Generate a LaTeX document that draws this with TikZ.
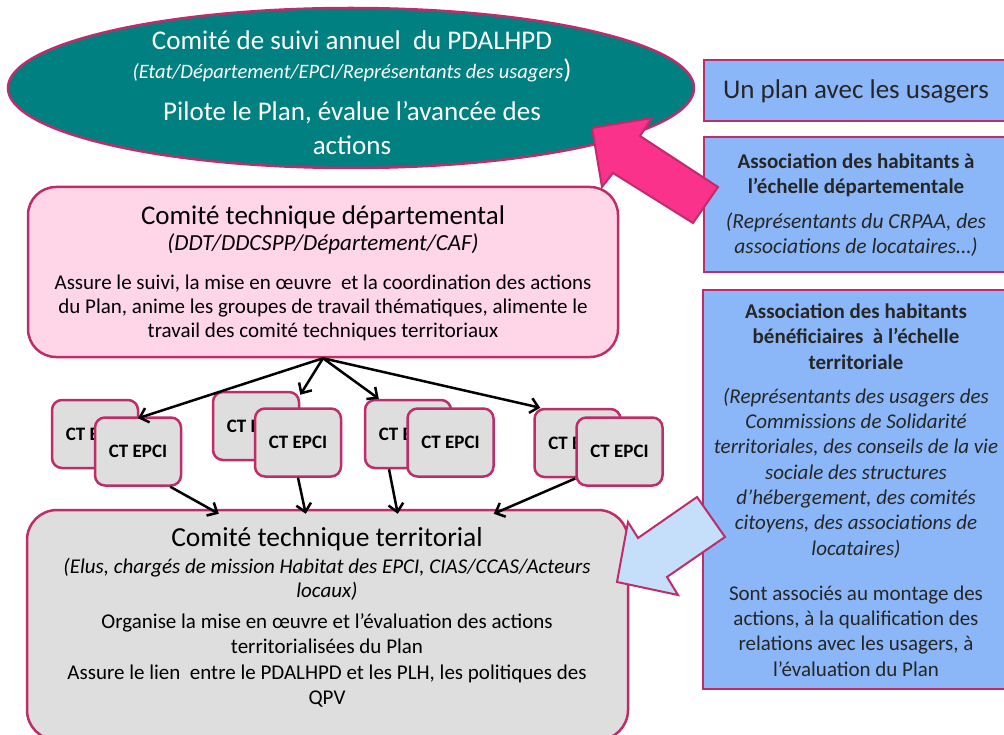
\documentclass[tikz,border=0pt]{standalone}
\usepackage{fontspec}
\setmainfont{Carlito}
\usetikzlibrary{shapes.geometric,arrows.meta,positioning}

\definecolor{cadre}{RGB}{190,45,105}
\definecolor{sarcelle}{RGB}{0,128,128}
\definecolor{rose}{RGB}{255,214,232}
\definecolor{gris}{RGB}{222,222,222}
\definecolor{bleu}{RGB}{139,183,248}
\definecolor{bleuclair}{RGB}{197,222,250}
\definecolor{fuchsia}{RGB}{250,50,140}
\definecolor{encre}{RGB}{38,38,38}

\tikzset{
	texte/.style={align=center, inner sep=0pt},
	comite/.style={draw=cadre, line width=2.5pt, rounded corners=28pt, inner sep=0pt},
	usager/.style={draw=cadre, fill=bleu, line width=2.5pt, inner sep=0pt},
	ctbox/.style={draw=cadre, fill=gris, line width=2.5pt, rounded corners=10pt, minimum width=86pt, minimum height=68pt, inner sep=0pt, font=\fontsize{19}{22}\selectfont\bfseries},
	fleche/.style={-{Straight Barb[length=8pt,width=15pt]}, line width=2.5pt},
	bloc/.style={draw=cadre, line width=2pt, line join=miter},
}

\begin{document}
\begin{tikzpicture}[x=1pt,y=-1pt]
		%%%%% START %%%%%
		\useasboundingbox (0,0) rectangle (1004,735);
		
		% comite de suivi
		\node[ellipse, draw=cadre, fill=sarcelle, line width=2.5pt, minimum width=686pt, minimum height=160pt, inner sep=0pt] (suivi) at (351,88) {};
		\node[texte, text=white, font=\fontsize{27}{30}\selectfont] (suivititre) at (352,40) {Comité de suivi annuel~ du PDALHPD};
		\node[texte, text=white] (suivimembres) at (352,71) {{\fontsize{20.5}{24}\selectfont\itshape (Etat/Département/EPCI/Représentants des usagers}{\fontsize{27}{30}\selectfont )}};
		\node[texte, text=white, font=\fontsize{27}{34}\selectfont] (suivirole) at (352,128) {Pilote le Plan, évalue l’avancée des\\actions};
		
		% usagers
		\node[usager, minimum width=306pt, minimum height=61pt] (plan) at (857,90.5) {};
		\node[texte, text=encre, font=\fontsize{27}{30}\selectfont] (plantxt) at (856,91) {Un plan avec les usagers};
		
		\node[usager, minimum width=306pt, minimum height=135pt] (assodep) at (857,204.5) {};
		\node[texte, text=encre, font=\fontsize{21}{25}\selectfont\bfseries] (assodeptitre) at (856,175.5) {Association des habitants à\\l’échelle départementale};
		\node[texte, text=encre, font=\fontsize{21.5}{25}\selectfont\itshape] (assodepmembres) at (856,234.5) {(Représentants du CRPAA, des\\associations de locataires…)};
		
		\node[usager, minimum width=307pt, minimum height=399pt] (assoter) at (856.5,489.5) {};
		\node[texte, text=encre, font=\fontsize{21}{25.5}\selectfont\bfseries] (assotertitre) at (856,336.5) {Association des habitants\\bénéficiaires~ à l’échelle\\territoriale};
		\node[texte, text=encre, font=\fontsize{21}{25.3}\selectfont\itshape] (assotermembres) at (856,473) {(Représentants des usagers des\\Commissions de Solidarité\\territoriales, des conseils de la vie\\sociale des structures\\d’hébergement, des comités\\citoyens, des associations de\\locataires)};
		\node[texte, text=encre, font=\fontsize{21}{25.3}\selectfont] (assoterrole) at (856,631) {Sont associés au montage des\\actions, à la qualification des\\relations avec les usagers, à\\l’évaluation du Plan};
		
		% comite technique departemental
		\node[comite, fill=rose, minimum width=590pt, minimum height=170pt] (ctd) at (323,272) {};
		\node[texte, font=\fontsize{27}{30}\selectfont] (ctdtitre) at (323,217) {Comité technique départemental};
		\node[texte, font=\fontsize{23}{26}\selectfont\itshape] (ctdmembres) at (323,244) {(DDT/DDCSPP/Département/CAF)};
		\node[texte, font=\fontsize{21}{24}\selectfont] (ctdrole) at (323,308) {Assure le suivi, la mise en œuvre~ et la coordination des actions\\du Plan, anime les groupes de travail thématiques, alimente le\\travail des comité techniques territoriaux};
		
		% comite technique territorial
		\node[comite, fill=gris, rounded corners=30pt, minimum width=601pt, minimum height=230pt] (ctt) at (327.5,625) {};
		\node[texte, font=\fontsize{27.5}{30}\selectfont] (ctttitre) at (327,539) {Comité technique territorial};
		\node[texte, font=\fontsize{21}{24}\selectfont\itshape] (cttmembres) at (327,579) {(Elus, chargés de mission Habitat des EPCI, CIAS/CCAS/Acteurs\\locaux)};
		\node[texte, font=\fontsize{21}{25.5}\selectfont] (cttrole) at (327,660.5) {Organise la mise en œuvre et l’évaluation des actions\\territorialisées du Plan\\Assure le lien~ entre le PDALHPD et les PLH, les politiques des\\QPV};
		
		% CT EPCI
		\node[ctbox] (b1) at (95,434) {CT EPCI};
		\node[ctbox] (f1) at (138,451.5) {CT EPCI};
		\node[ctbox] (b2) at (256,426) {CT EPCI};
		\node[ctbox] (f2) at (298,442.5) {CT EPCI};
		\node[ctbox] (b3) at (408,434) {CT EPCI};
		\node[ctbox] (f3) at (450.5,442.5) {CT EPCI};
		\node[ctbox] (b4) at (577.5,443) {CT EPCI};
		\node[ctbox] (f4) at (619.5,451.5) {CT EPCI};
		
		\draw[fleche] (ctd.south) -- ([yshift=-2pt]f1.north);
		\draw[fleche] (ctd.south) -- ([yshift=-4pt]b2.north east);
		\draw[fleche] (ctd.south) -- ([xshift=15pt]b3.north west);
		\draw[fleche] (ctd.south) -- ([xshift=7pt]b4.north west);
		
		\draw[fleche] ([xshift=-12pt]f1.south east) -- ([xshift=193pt,yshift=-5pt]ctt.north west);
		\draw[fleche] (f2.south) -- ([xshift=280pt,yshift=-5pt]ctt.north west);
		\draw[fleche] ([xshift=-19pt]b3.south) -- ([xshift=372pt,yshift=-5pt]ctt.north west);
		\draw[fleche] ([yshift=-27pt]f4.west) -- ([xshift=468pt,yshift=-5pt]ctt.north west);
		
		% grosses fleches
		\draw[bloc, fill=fuchsia] (592,128) -- (652,118) -- (640,136) -- (718,187) -- (693,223) -- (613,173) -- (602,187) -- cycle;
		\draw[bloc, fill=bleuclair] (617,582) -- (628,522) -- (638,538) -- (697,497) -- (725,537) -- (667,577) -- (678,595) -- cycle;
		
		%%%%% END %%%%%
\end{tikzpicture}
\end{document}
